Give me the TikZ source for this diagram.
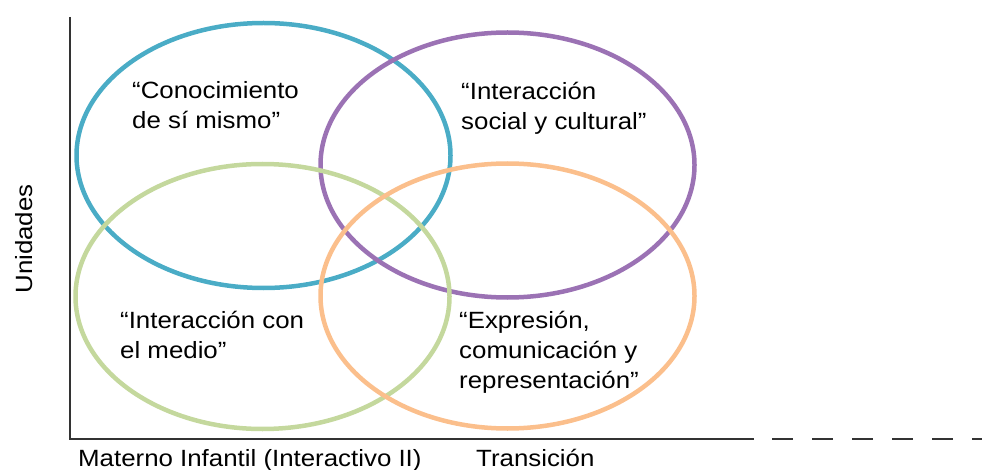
\documentclass[tikz,border=0pt]{standalone}
\usepackage{fontspec}
\setmainfont{Liberation Sans}[FakeStretch=1.1]
\definecolor{azul}{HTML}{4AACC6}
\definecolor{morado}{HTML}{9B72B4}
\definecolor{verde}{HTML}{C4D89D}
\definecolor{naranja}{HTML}{FBBF8C}
\begin{document}
\begin{tikzpicture}[
        x=1pt, y=1pt,
        font=\fontsize{23.5}{30}\selectfont,
        eje/.style={line width=2pt, black!80},
        conjunto/.style={line width=4.5pt},
        etiqueta/.style={anchor=base west, align=left, inner sep=0pt}
    ]
        % Parámetros
        \def\rx{187pt}
        \def\ry{132.5pt}
        \def\ejey{30}

        \useasboundingbox (0,0) rectangle (982,469);

        % Ejes
        \draw[eje] (70,452) -- (70,\ejey) -- (754,\ejey);
        \draw[eje, dash pattern=on 21pt off 19pt] (772,\ejey) -- (982,\ejey);

        % Conjuntos (elipses)
        \draw[conjunto, azul] (263.5,313.5) circle [x radius=\rx, y radius=\ry];
        \draw[conjunto, morado] (507.5,304) circle [x radius=\rx, y radius=\ry];
        \draw[conjunto, verde] (262.5,172.5) circle [x radius=\rx, y radius=\ry];
        \draw[conjunto, naranja] (507.5,173) circle [x radius=\rx, y radius=\ry];

        % Textos de los conjuntos (base = última línea)
        \node[etiqueta] (conocimiento) at (132,340) {“Conocimiento\\de sí mismo”};
        \node[etiqueta] (social) at (461,339) {“Interacción\\social y cultural”};
        \node[etiqueta] (medio) at (120,111) {“Interacción con\\el medio”};
        \node[etiqueta] (expresion) at (459,81) {“Expresión,\\comunicación y\\representación”};

        % Etiquetas de los ejes
        \node[anchor=base west, inner sep=0pt] (materno) at (78,3) {Materno Infantil (Interactivo II)};
        \node[anchor=base west, inner sep=0pt] (transicion) at (476,3) {Transición};
        \node[rotate=90, anchor=base, inner sep=0pt] (unidades) at (32,230) {Unidades};

    \end{tikzpicture}
\end{document}
